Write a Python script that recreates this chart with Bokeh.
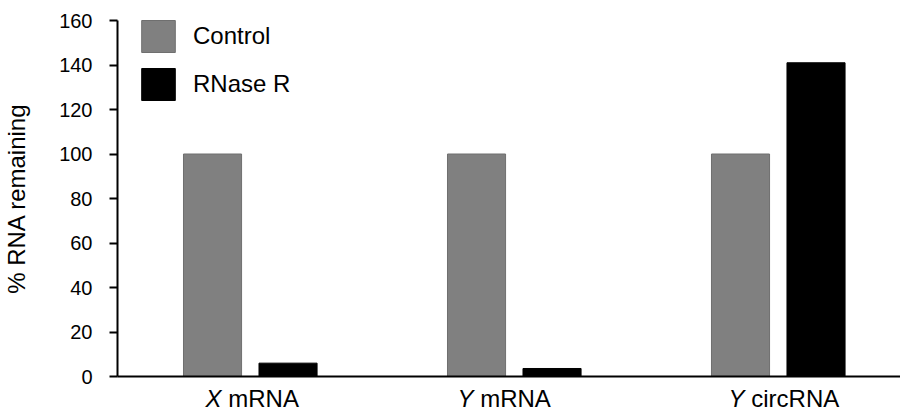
from bokeh.plotting import figure
from bokeh.models import ColumnDataSource, FixedTicker, LinearAxis, Legend, LegendItem, Range1d
from bokeh.embed import file_html
from bokeh.resources import INLINE

# ---- data ----
genes = ["X", "Y", "Y"]
rna_types = ["mRNA", "mRNA", "circRNA"]
control = [100, 100, 100]
rnase_r = [6, 3.6, 141]
y_ticks = [0, 20, 40, 60, 80, 100, 120, 140, 160]
series_names = ["Control", "RNase R"]

# ---- layout / style ----
FONT = "Liberation Sans"
idx = list(range(len(genes)))
bar_w = 0.22
off_c, off_r = -0.144, 0.142
X_START, X_END = -0.504, 2.462
FRAME_W = 783
px = (X_END - X_START) / FRAME_W          # data units per pixel
label_split = [-29, -41, -34]             # px: split point between italic letter and plain text
letter_w = 16.0                           # px width of italic letter at 24px
space_w = 6.7
rest_w = [70.6, 70.6, 88.0]               # px widths of the plain parts

letter_pos = [i + (s - letter_w / 2) * px for i, s in zip(idx, label_split)]
rest_pos = [i + (s + space_w + w / 2) * px for i, s, w in zip(idx, label_split, rest_w)]

src = ColumnDataSource(dict(
    x_c=[i + off_c for i in idx], x_r=[i + off_r for i in idx],
    control=control, rnase=rnase_r,
))

p = figure(width=900, height=414, output_backend="svg", toolbar_location=None,
           x_range=Range1d(X_START, X_END), y_range=Range1d(0, 160),
           min_border_left=117, min_border_right=0, min_border_top=20, min_border_bottom=30)
p.outline_line_color = None
p.grid.visible = False
p.background_fill_color = "white"

r_c = p.vbar(x="x_c", top="control", width=bar_w, source=src,
             fill_color="#808080", line_color="#6f6f6f", line_width=1)
r_r = p.vbar(x="x_r", top="rnase", width=bar_w, source=src,
             fill_color="#000000", line_color="#000000", line_width=1)

# y axis
ya = p.yaxis[0]
ya.ticker = FixedTicker(ticks=y_ticks)
ya.axis_line_width = 2
ya.axis_line_color = "black"
ya.major_tick_line_width = 2
ya.major_tick_in = 0
ya.major_tick_out = 8
ya.minor_tick_line_color = None
ya.major_label_standoff = 17
ya.major_label_text_font = FONT
ya.major_label_text_font_size = "20px"
ya.major_label_text_color = "black"
ya.axis_label = "% RNA remaining"
ya.axis_label_text_font = FONT
ya.axis_label_text_font_size = "24px"
ya.axis_label_text_font_style = "normal"
ya.axis_label_text_color = "black"
ya.axis_label_standoff = 26

# x axis: line + italic gene letters
xa = p.xaxis[0]
xa.ticker = FixedTicker(ticks=letter_pos)
xa.major_label_overrides = {t: g for t, g in zip(letter_pos, genes)}
xa.axis_line_width = 2
xa.axis_line_color = "black"
xa.major_tick_line_color = None
xa.major_tick_in = 0
xa.major_tick_out = 0
xa.minor_tick_line_color = None
xa.major_label_standoff = 8
xa.major_label_text_font = FONT
xa.major_label_text_font_size = "24px"
xa.major_label_text_font_style = "italic"
xa.major_label_text_color = "black"

# second x axis: plain RNA type, pulled up onto the same line
xb = LinearAxis(ticker=FixedTicker(ticks=rest_pos),
                major_label_overrides={t: r for t, r in zip(rest_pos, rna_types)},
                axis_line_color=None, major_tick_line_color=None, minor_tick_line_color=None,
                major_tick_in=0, major_tick_out=0, major_label_standoff=-30,
                major_label_text_font=FONT, major_label_text_font_size="24px",
                major_label_text_color="black")
p.add_layout(xb, "below")

legend = Legend(items=[LegendItem(label=series_names[0], renderers=[r_c]),
                       LegendItem(label=series_names[1], renderers=[r_r])],
                location=(20, 272), orientation="vertical",
                glyph_width=42, glyph_height=40, spacing=8, padding=0, margin=0,
                label_standoff=14, label_text_font=FONT, label_text_font_size="24px",
                label_text_color="black", label_text_baseline="middle",
                border_line_color=None, background_fill_alpha=0)
p.add_layout(legend)

open("out.html", "w").write(file_html(p, INLINE))
